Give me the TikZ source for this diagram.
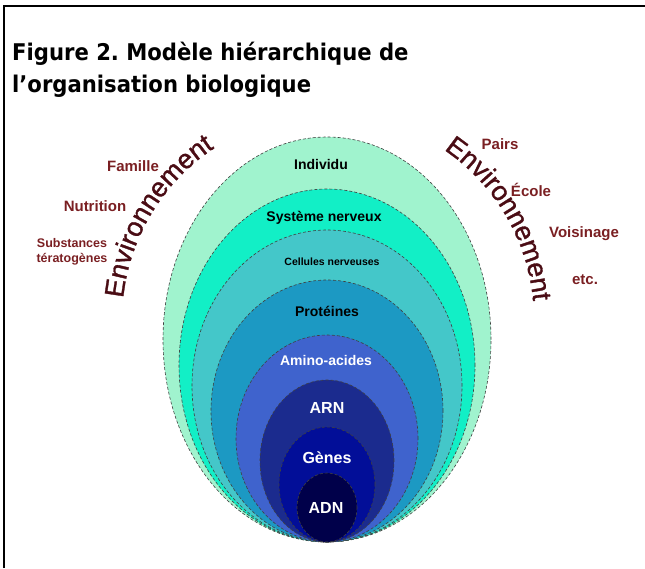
\documentclass[tikz,border=0pt]{standalone}
\usepackage{fontspec}
\setmainfont{Liberation Sans}
\newfontfamily\titlefont{DejaVu Sans}[FakeStretch=0.92]
\newfontfamily\envfamily{Liberation Sans}[FakeBold=1.2]
\usepackage{xcolor}
\usepackage{tikz}
\usetikzlibrary{shapes.geometric,decorations.text}
\frenchspacing

\definecolor{cIndividu}{HTML}{A0F3CE}
\definecolor{cSysteme}{HTML}{12EFC6}
\definecolor{cCellules}{HTML}{44C7C9}
\definecolor{cProteines}{HTML}{1C99C3}
\definecolor{cAmino}{HTML}{3F63CD}
\definecolor{cARN}{HTML}{1B2B8E}
\definecolor{cGenes}{HTML}{020E98}
\definecolor{cADN}{HTML}{00004A}
\definecolor{envred}{HTML}{4A0C14}
\definecolor{labred}{HTML}{7A1F22}

\newcommand\envfont{\envfamily\fontsize{27}{27}\selectfont}

\begin{document}
\begin{tikzpicture}[x=1pt,y=-1pt]
\tikzstyle{ring} = [ellipse, draw=black!75, densely dashed, line width=.6pt, inner sep=0pt]
\tikzstyle{inlab} = [font=\bfseries\fontsize{14}{16}\selectfont, inner sep=0pt]
\tikzstyle{sidelab} = [text=labred, font=\bfseries\fontsize{15}{15}\selectfont, inner sep=0pt]
\tikzstyle{envtext} = [decorate, decoration={text along path, text align=center,
	text color=envred, text={|\envfont|Environnement}}]
\useasboundingbox (0,0) rectangle (645,568);

% frame, open at right and bottom
\draw[line width=2pt] (4,568) -- (4,6) -- (645,6);

% base anchor sits on the last line
\node[anchor=base west, align=left, inner sep=0pt,
	font=\titlefont\bfseries\fontsize{23}{32}\selectfont] (titre) at (12,92)
	{Figure 2. Modèle hiérarchique de\\l’organisation biologique};

% nested levels, all touching at the bottom
\node[ring, fill=cIndividu, minimum width=328pt, minimum height=405pt] (individu) at (327,339.5) {};
\node[ring, fill=cSysteme, minimum width=296pt, minimum height=353pt] (systeme) at (327,365.5) {};
\node[ring, fill=cCellules, minimum width=270pt, minimum height=312pt] (cellules) at (327,386) {};
\node[ring, fill=cProteines, minimum width=232pt, minimum height=262pt] (proteines) at (327,411) {};
\node[ring, fill=cAmino, minimum width=182pt, minimum height=207pt] (amino) at (327,438.5) {};
\node[ring, fill=cARN, minimum width=134pt, minimum height=162pt] (arn) at (327,461) {};
\node[ring, fill=cGenes, minimum width=96pt, minimum height=115pt] (genes) at (327,484.5) {};
\node[ring, fill=cADN, minimum width=60pt, minimum height=69pt] (adn) at (327,507.5) {};

\node[inlab] (lindividu) at (321,164) {Individu};
\node[inlab] (lsysteme) at (324,218) {Système nerveux};
\node[inlab, font=\bfseries\fontsize{10.5}{12}\selectfont] (lcellules) at (332,262) {Cellules nerveuses};
\node[inlab] (lproteines) at (327,311) {Protéines};
\node[inlab, text=white] (lamino) at (326,360) {Amino-acides};
\node[inlab, text=white, font=\bfseries\fontsize{16}{18}\selectfont] (larn) at (327,408) {ARN};
\node[inlab, text=white, font=\bfseries\fontsize{16}{18}\selectfont] (lgenes) at (327,458) {Gènes};
\node[inlab, text=white, font=\bfseries\fontsize{16}{18}\selectfont] (ladn) at (326,508) {ADN};

% environment, left and right
\path[envtext] (328,320) ++(180:206pt) arc[start angle=180, end angle=117.4, radius=206pt];
\path[envtext] (328,320) ++(62:206pt) arc[start angle=62, end angle=-1, radius=206pt];

\node[sidelab] (famille) at (133,166) {Famille};
\node[sidelab] (nutrition) at (95,206) {Nutrition};
\node[sidelab, align=center, font=\bfseries\fontsize{12.5}{15}\selectfont] (substances) at (72,252)
	{Substances\\tératogènes};
\node[sidelab] (pairs) at (500,144) {Pairs};
\node[sidelab] (ecole) at (531,190) {École};
\node[sidelab] (voisinage) at (584,234) {Voisinage};
\node[sidelab] (etc) at (585,280) {etc.};
\end{tikzpicture}
\end{document}
